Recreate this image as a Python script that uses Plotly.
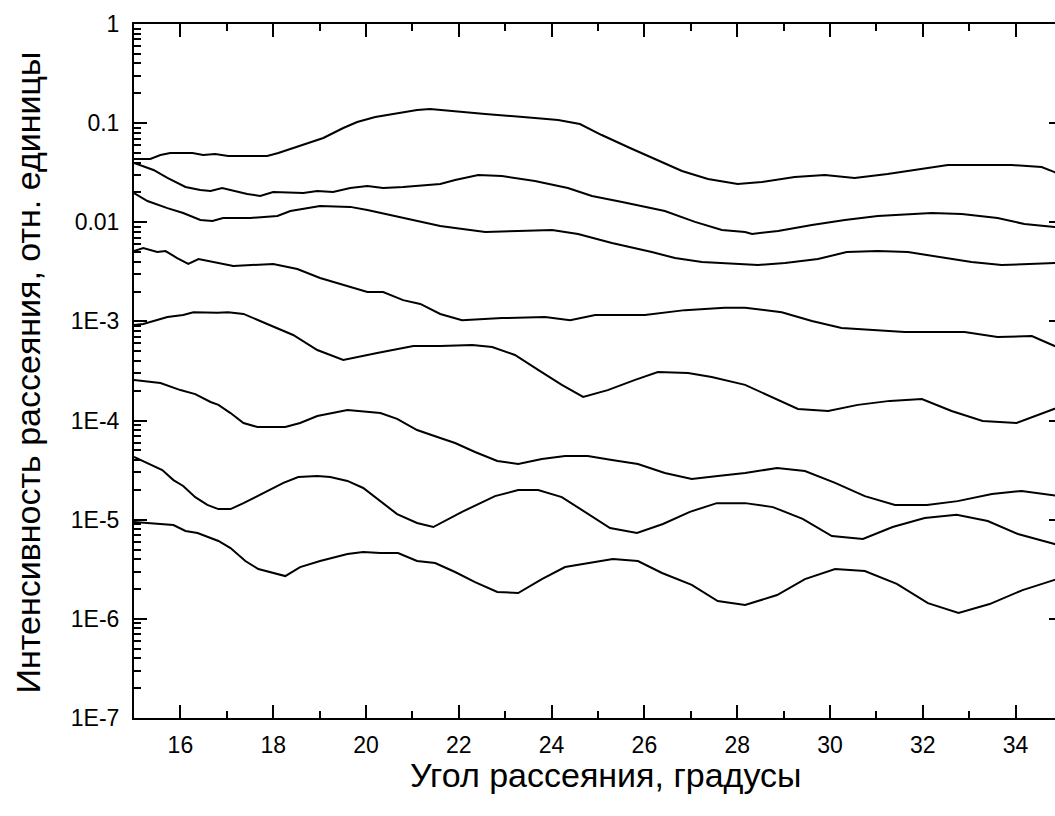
import plotly.graph_objects as go

# Scattering intensity vs. scattering angle, eight curves (relative units)
angle_1 = [15.0, 15.35, 15.57, 15.78, 16.26, 16.49, 16.75, 17.03, 17.29, 17.57, 17.87, 18.11, 18.43, 18.80, 19.08,
           19.51, 19.81, 20.20, 20.67, 21.10, 21.38, 21.60, 22.57, 23.64, 24.14, 24.61, 25.08, 25.69, 26.16, 26.81,
           27.37, 28.01, 28.53, 29.24, 29.89, 30.53, 31.24, 31.98, 32.54, 33.18, 33.92, 34.56, 34.84, 35.0]
intensity_1 = [0.0435, 0.0435, 0.0477, 0.0500, 0.0500, 0.0477, 0.0488, 0.0466, 0.0466, 0.0466, 0.0466, 0.0500,
               0.0561, 0.0630, 0.0708, 0.0893, 0.1027, 0.1153, 0.1265, 0.1357, 0.1389, 0.1357, 0.1237, 0.1127,
               0.1076, 0.0980, 0.0759, 0.0561, 0.0445, 0.0329, 0.0273, 0.0243, 0.0255, 0.0286, 0.0300, 0.0280,
               0.0307, 0.0345, 0.0378, 0.0378, 0.0378, 0.0361, 0.0321, 0.0290]

angle_2 = [15.0, 15.42, 15.72, 16.11, 16.43, 16.65, 16.90, 17.08, 17.44, 17.72, 18.00, 18.65, 18.95, 19.29, 19.66,
           20.03, 20.37, 20.80, 21.60, 21.92, 22.42, 22.93, 23.64, 24.35, 24.87, 25.52, 26.44, 27.09, 27.67, 28.17,
           28.32, 28.88, 29.61, 30.32, 31.03, 32.19, 32.84, 33.61, 34.19, 34.84, 35.0]
intensity_2 = [0.0396, 0.0337, 0.0280, 0.0227, 0.0212, 0.0207, 0.0222, 0.0212, 0.0193, 0.0184, 0.0202, 0.0197,
               0.0207, 0.0202, 0.0222, 0.0232, 0.0222, 0.0227, 0.0243, 0.0267, 0.0300, 0.0293, 0.0261, 0.0222,
               0.0184, 0.0160, 0.0130, 0.0101, 0.00836, 0.00798, 0.00762, 0.00817, 0.00939, 0.01054, 0.01157,
               0.0124, 0.0121, 0.01104, 0.00961, 0.00897, 0.0088]

angle_3 = [15.0, 15.29, 15.72, 16.06, 16.43, 16.69, 16.92, 17.51, 18.09, 18.37, 19.01, 19.66, 20.03, 20.89, 21.60,
           21.92, 22.57, 23.28, 24.01, 24.57, 25.30, 26.16, 26.66, 27.24, 28.17, 28.45, 29.03, 29.74, 30.36, 31.03,
           31.68, 32.32, 33.05, 33.70, 34.35, 34.84, 35.0]
intensity_3 = [0.0197, 0.0164, 0.0139, 0.0124, 0.01054, 0.0103, 0.01104, 0.01104, 0.01157, 0.0130, 0.0146, 0.0143,
               0.0133, 0.0108, 0.00918, 0.00876, 0.00798, 0.00817, 0.00836, 0.00762, 0.00618, 0.00501, 0.00436,
               0.00397, 0.00380, 0.00371, 0.00389, 0.00426, 0.00501, 0.00513, 0.00501, 0.00447, 0.00397, 0.00371,
               0.00380, 0.00389, 0.0039]

angle_4 = [15.0, 15.20, 15.50, 15.68, 15.93, 16.17, 16.39, 16.71, 17.14, 18.00, 18.52, 19.01, 19.66, 20.03, 20.37,
           20.80, 21.17, 21.60, 22.07, 22.93, 23.86, 24.40, 24.94, 26.01, 26.87, 27.73, 28.17, 28.96, 29.61, 30.25,
           31.61, 32.90, 33.61, 34.35, 34.84, 35.0]
intensity_4 = [5.13e-3, 5.50e-3, 5.01e-3, 5.13e-3, 4.36e-3, 3.80e-3, 4.26e-3, 3.97e-3, 3.62e-3, 3.80e-3, 3.38e-3,
               2.74e-3, 2.22e-3, 1.98e-3, 1.98e-3, 1.64e-3, 1.50e-3, 1.19e-3, 1.03e-3, 1.08e-3, 1.11e-3, 1.03e-3,
               1.16e-3, 1.16e-3, 1.30e-3, 1.37e-3, 1.37e-3, 1.24e-3, 1.01e-3, 8.58e-4, 7.82e-4, 7.82e-4, 6.97e-4,
               7.13e-4, 5.65e-4, 5.2e-4]

angle_5 = [15.0, 15.20, 15.72, 16.06, 16.28, 16.80, 17.03, 17.36, 17.87, 18.43, 18.95, 19.51, 20.24, 21.02, 21.60,
           22.29, 22.72, 23.21, 23.71, 24.22, 24.68, 25.21, 25.80, 26.29, 26.94, 27.45, 28.17, 29.31, 29.96, 30.60,
           31.29, 31.98, 32.62, 33.29, 34.02, 34.84, 35.0]
intensity_5 = [9.20e-4, 9.42e-4, 1.11e-3, 1.16e-3, 1.24e-3, 1.22e-3, 1.24e-3, 1.19e-3, 9.42e-4, 7.30e-4, 5.15e-4,
               4.08e-4, 4.80e-4, 5.65e-4, 5.65e-4, 5.78e-4, 5.52e-4, 4.59e-4, 3.24e-4, 2.29e-4, 1.73e-4, 2.03e-4,
               2.57e-4, 3.09e-4, 3.02e-4, 2.75e-4, 2.29e-4, 1.31e-4, 1.25e-4, 1.44e-4, 1.58e-4, 1.65e-4, 1.25e-4,
               9.90e-5, 9.45e-5, 1.31e-4, 1.40e-4]

angle_6 = [15.0, 15.57, 16.00, 16.32, 16.65, 16.82, 17.08, 17.36, 17.66, 18.26, 18.58, 18.95, 19.60, 20.31, 20.67,
           21.10, 21.60, 21.92, 22.35, 22.83, 23.28, 23.79, 24.29, 24.78, 25.30, 25.86, 26.44, 27.02, 27.58, 28.17,
           28.86, 29.46, 30.11, 30.75, 31.40, 32.09, 32.75, 33.49, 34.13, 34.84, 35.0]
intensity_6 = [2.57e-4, 2.39e-4, 2.03e-4, 1.85e-4, 1.54e-4, 1.44e-4, 1.19e-4, 9.45e-5, 8.61e-5, 8.61e-5, 9.45e-5,
               1.11e-4, 1.28e-4, 1.19e-4, 1.04e-4, 8.03e-5, 6.67e-5, 5.94e-5, 4.82e-5, 3.91e-5, 3.65e-5, 4.10e-5,
               4.39e-5, 4.39e-5, 4.00e-5, 3.65e-5, 2.96e-5, 2.57e-5, 2.76e-5, 2.96e-5, 3.32e-5, 3.10e-5, 2.35e-5,
               1.73e-5, 1.41e-5, 1.41e-5, 1.54e-5, 1.82e-5, 1.95e-5, 1.77e-5, 1.72e-5]

angle_7 = [15.0, 15.29, 15.61, 15.85, 16.06, 16.32, 16.58, 16.82, 17.08, 17.36, 17.79, 18.22, 18.54, 18.95, 19.23,
           19.60, 19.94, 20.31, 20.67, 21.10, 21.45, 22.07, 22.78, 23.28, 23.71, 24.22, 24.72, 25.26, 25.84, 26.40,
           26.98, 27.56, 28.17, 28.77, 29.41, 30.04, 30.71, 31.35, 32.04, 32.73, 33.40, 34.05, 34.84, 35.0]
intensity_7 = [4.29e-5, 3.73e-5, 3.17e-5, 2.51e-5, 2.19e-5, 1.69e-5, 1.41e-5, 1.28e-5, 1.28e-5, 1.47e-5, 1.86e-5,
               2.35e-5, 2.70e-5, 2.76e-5, 2.70e-5, 2.46e-5, 2.09e-5, 1.54e-5, 1.14e-5, 9.26e-6, 8.44e-6, 1.20e-5,
               1.73e-5, 1.99e-5, 1.99e-5, 1.69e-5, 1.20e-5, 8.25e-6, 7.34e-6, 9.05e-6, 1.20e-5, 1.47e-5, 1.47e-5,
               1.34e-5, 1.02e-5, 6.85e-6, 6.39e-6, 8.44e-6, 1.04e-5, 1.12e-5, 9.70e-6, 7.18e-6, 5.69e-6, 5.4e-6]

angle_8 = [15.0, 15.85, 16.11, 16.37, 16.82, 17.08, 17.40, 17.68, 18.26, 18.58, 19.01, 19.60, 19.94, 20.31, 20.69,
           21.10, 21.49, 21.92, 22.35, 22.83, 23.28, 23.79, 24.29, 24.78, 25.32, 25.86, 26.38, 27.02, 27.58, 28.17,
           28.86, 29.46, 30.11, 30.75, 31.44, 32.11, 32.77, 33.44, 34.15, 34.84, 35.0]
intensity_8 = [9.48e-6, 8.84e-6, 7.69e-6, 7.34e-6, 6.10e-6, 5.18e-6, 3.83e-6, 3.18e-6, 2.70e-6, 3.33e-6, 3.83e-6,
               4.51e-6, 4.72e-6, 4.61e-6, 4.61e-6, 3.83e-6, 3.66e-6, 2.97e-6, 2.35e-6, 1.87e-6, 1.82e-6, 2.52e-6,
               3.33e-6, 3.66e-6, 4.01e-6, 3.83e-6, 2.90e-6, 2.20e-6, 1.51e-6, 1.38e-6, 1.74e-6, 2.52e-6, 3.18e-6,
               3.04e-6, 2.25e-6, 1.44e-6, 1.15e-6, 1.41e-6, 1.95e-6, 2.47e-6, 2.6e-6]

y_tick_values = [1e-7, 1e-6, 1e-5, 1e-4, 1e-3, 1e-2, 1e-1, 1]
y_tick_labels = ["1E-7", "1E-6", "1E-5", "1E-4", "1E-3", "0.01", "0.1", "1"]
x_tick_values = [16, 18, 20, 22, 24, 26, 28, 30, 32, 34]
x_minor_values = [15, 17, 19, 21, 23, 25, 27, 29, 31, 33, 35]

x_title = "Угол рассеяния, градусы"
y_title = "Интенсивность рассеяния, отн. единицы"

series = [
    (angle_1, intensity_1), (angle_2, intensity_2), (angle_3, intensity_3), (angle_4, intensity_4),
    (angle_5, intensity_5), (angle_6, intensity_6), (angle_7, intensity_7), (angle_8, intensity_8),
]

y_minor_values = [m * 10.0 ** e for e in range(-7, 0) for m in range(2, 10)]

FONT = "Liberation Sans, Arial, sans-serif"

fig = go.Figure()
for xs, ys in series:
    fig.add_trace(go.Scatter(x=xs, y=ys, mode="lines",
                             line=dict(color="black", width=2), showlegend=False))

fig.update_layout(
    width=1075, height=816,
    margin=dict(l=134, r=13, t=24, b=98),
    paper_bgcolor="white", plot_bgcolor="white",
    font=dict(family=FONT, color="black"),
)

fig.update_xaxes(
    range=[15, 35],
    showline=True, linecolor="black", linewidth=2, mirror="allticks",
    showgrid=False, zeroline=False,
    tickmode="array", tickvals=x_tick_values,
    ticks="inside", ticklen=13, tickwidth=2, tickcolor="black",
    tickfont=dict(size=23, family=FONT), ticklabelstandoff=5,
    minor=dict(tickmode="array", tickvals=x_minor_values, ticks="inside",
               ticklen=7, tickwidth=2, tickcolor="black", showgrid=False),
)

fig.update_yaxes(
    type="log", range=[-7, 0],
    showline=True, linecolor="black", linewidth=2, mirror="allticks",
    showgrid=False, zeroline=False,
    tickmode="array", tickvals=y_tick_values, ticktext=y_tick_labels,
    ticks="inside", ticklen=13, tickwidth=2, tickcolor="black",
    tickfont=dict(size=23, family=FONT), ticklabelstandoff=8,
    minor=dict(tickmode="array", tickvals=y_minor_values, ticks="inside",
               ticklen=7, tickwidth=2, tickcolor="black", showgrid=False),
)

# Axis titles
fig.add_annotation(text=x_title, xref="paper", yref="paper", x=0.509, y=-0.082,
                   xanchor="center", yanchor="middle", showarrow=False,
                   font=dict(size=34, family=FONT, color="black"))
fig.add_annotation(text=y_title, xref="paper", yref="paper", x=-0.1142, y=0.498,
                   xanchor="center", yanchor="middle", textangle=-90, showarrow=False,
                   font=dict(size=34, family=FONT, color="black"))

fig.write_html(
    "out.html",
    post_script="document.documentElement.style.overflow='hidden';document.body.style.overflow='hidden';",
)
